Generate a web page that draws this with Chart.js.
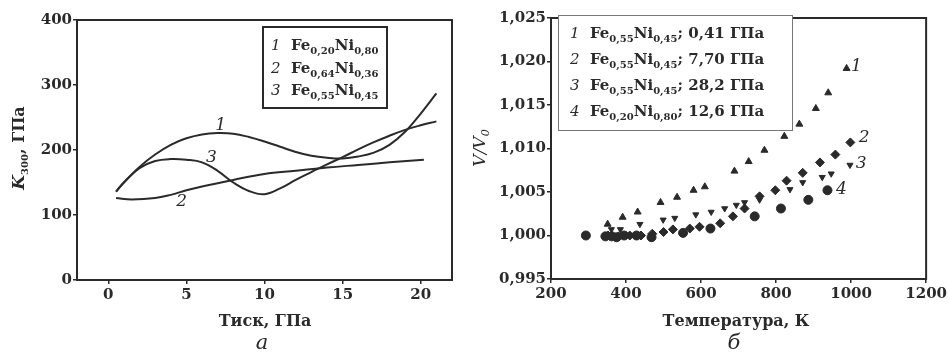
<!DOCTYPE html>
<html>
<head>
<meta charset="utf-8">
<script src="https://cdn.jsdelivr.net/npm/chart.js@4/dist/chart.umd.min.js"></script>
<style>
  body { margin: 0; background: #fff; }
  #wrap { position: relative; width: 949px; height: 353px; }
  canvas { position: absolute; top: 0; }
</style>
</head>
<body>
<div id="wrap">
  <canvas id="chartA" width="470" height="353" style="left:0"></canvas>
  <canvas id="chartB" width="479" height="353" style="left:470px"></canvas>
</div>
<script>
// ---- panel a: bulk modulus vs pressure ----
let pressureTicks = [0, 5, 10, 15, 20];
let modulusTicks = [0, 100, 200, 300, 400];

let p1 = [0.5, 1, 2, 3, 4, 5, 6, 7, 8, 9, 10, 11, 12, 13, 14, 15, 16, 17, 18, 19, 20, 21];
let k1 = [136, 150, 174, 193, 208, 218, 224, 226, 225, 220, 213, 205, 197, 191, 188, 187, 190, 196, 208, 228, 256, 287];

let p2 = [0.5, 1.5, 3, 4, 5, 6, 8, 10, 12, 14, 16, 18, 20.2];
let k2 = [126, 124, 126, 131, 138, 144, 154, 163, 168, 173, 177, 181, 185];

let p3 = [0.5, 1, 2, 3, 4, 5, 6, 7, 8, 9, 10, 11, 12, 13, 14, 15, 16, 17, 18, 19, 20, 21];
let k3 = [136, 150, 172, 183, 186, 185, 181, 168, 150, 137, 132, 141, 154, 166, 178, 189, 201, 212, 222, 231, 238, 244];

// ---- panel b: V/V0 vs temperature ----
let tempTicks = [200, 400, 600, 800, 1000, 1200];
let volTicks = [0.995, 1.000, 1.005, 1.010, 1.015, 1.020, 1.025];

let t1 = [351, 391, 431, 492, 536, 580, 610, 689, 727, 769, 822, 862, 906, 939, 988];
let v1 = [1.0013, 1.0021, 1.0027, 1.0038, 1.0044, 1.0052, 1.0056, 1.0074, 1.0085, 1.0098, 1.0114, 1.0128, 1.0146, 1.0164, 1.0192];

let t2 = [352, 380, 410, 440, 470, 500, 525, 570, 596, 651, 685, 716, 756, 798, 828, 871, 917, 958, 998];
let v2 = [1.0000, 0.9999, 1.0000, 1.0000, 1.0002, 1.0004, 1.0007, 1.0008, 1.0010, 1.0014, 1.0022, 1.0031, 1.0045, 1.0052, 1.0063, 1.0072, 1.0084, 1.0093, 1.0107];

let t3 = [361, 385, 437, 499, 530, 586, 627, 663, 694, 716, 756, 837, 871, 923, 947, 997];
let v3 = [1.0007, 1.0007, 1.0013, 1.0018, 1.0020, 1.0024, 1.0027, 1.0031, 1.0035, 1.0038, 1.0041, 1.0053, 1.0061, 1.0067, 1.0071, 1.0081];

let t4 = [293, 345, 362, 375, 395, 428, 468, 552, 625, 743, 813, 886, 937];
let v4 = [1.0000, 0.9999, 0.9999, 0.9998, 1.0000, 1.0000, 0.9998, 1.0003, 1.0008, 1.0022, 1.0031, 1.0041, 1.0052];

const INK = '#2a2a2a';
const SERIF = "'DejaVu Serif', serif";
Chart.defaults.font.family = SERIF;
Chart.defaults.font.size = 15;
Chart.defaults.font.weight = 'bold';
Chart.defaults.color = INK;

function pts(xs, ys) {
    return xs.map((x, i) => ({ x: x, y: ys[i] }));
}

// draw a run of text pieces (normal, italic, subscript) one after another
function drawParts(ctx, parts, x, y, align) {
    let total = 0;
    parts.forEach(p => { ctx.font = p.f; total += ctx.measureText(p.t).width; });
    let cx = align === 'center' ? x - total / 2 : x;
    ctx.textAlign = 'left';
    ctx.textBaseline = 'alphabetic';
    parts.forEach(p => {
        ctx.font = p.f;
        ctx.fillText(p.t, cx, y + (p.dy || 0));
        cx += ctx.measureText(p.t).width;
    });
}

const B = 'bold 15px ' + SERIF;
const BI = 'italic 15px ' + SERIF;
const SUB = 'bold 10px ' + SERIF;
function formula(num, a, b, tail) {
    let parts = [{ t: num, f: BI }, { t: '  Fe', f: B }, { t: a, f: SUB, dy: 4 }, { t: 'Ni', f: B }, { t: b, f: SUB, dy: 4 }];
    if (tail) parts.push({ t: tail, f: B });
    return parts;
}

// frame around the plot area
const framePlugin = {
    id: 'frame',
    afterDraw(chart) {
        let a = chart.chartArea, ctx = chart.ctx;
        ctx.save();
        ctx.strokeStyle = INK;
        ctx.lineWidth = 2;
        ctx.strokeRect(a.left, a.top, a.right - a.left, a.bottom - a.top);
        ctx.restore();
    }
};

function axis(min, max, ticks, fmt, size, isX) {
    return {
        type: 'linear',
        min: min,
        max: max,
        afterBuildTicks: s => { s.ticks = ticks.map(v => ({ value: v })); },
        afterFit: s => { if (isX) s.height = size; else s.width = size; },
        grid: { drawOnChartArea: false, tickLength: 4, color: INK, lineWidth: 1.5 },
        border: { color: INK, width: 2 },
        ticks: { padding: isX ? 2 : 1, color: INK, callback: fmt }
    };
}

// ---------- chart a ----------
const lineStyle = { borderColor: INK, borderWidth: 2, pointRadius: 0, tension: 0.4, fill: false, showLine: true };

const textA = {
    id: 'textA',
    afterDraw(chart) {
        let ctx = chart.ctx, xs = chart.scales.x, ys = chart.scales.y;
        ctx.save();
        ctx.fillStyle = INK;
        // y title
        ctx.save();
        ctx.translate(24, 148);
        ctx.rotate(-Math.PI / 2);
        drawParts(ctx, [{ t: 'K', f: 'italic bold 17px ' + SERIF }, { t: '300', f: SUB, dy: 4 }, { t: ', ГПа', f: 'bold 16px ' + SERIF }], 0, 0, 'center');
        ctx.restore();
        drawParts(ctx, [{ t: 'Тиск, ГПа', f: 'bold 16px ' + SERIF }], 265, 326, 'center');
        drawParts(ctx, [{ t: 'а', f: 'italic 21px ' + SERIF }], 262, 349, 'center');
        // legend box
        ctx.strokeStyle = INK;
        ctx.lineWidth = 2;
        ctx.strokeRect(263, 27, 124, 81);
        drawParts(ctx, formula('1', '0,20', '0,80'), 271, 50);
        drawParts(ctx, formula('2', '0,64', '0,36'), 271, 73);
        drawParts(ctx, formula('3', '0,55', '0,45'), 271, 95);
        // curve numbers
        ctx.font = 'italic 17px ' + SERIF;
        ctx.textAlign = 'center';
        ctx.textBaseline = 'middle';
        ctx.fillText('1', xs.getPixelForValue(7.2), ys.getPixelForValue(238));
        ctx.fillText('3', xs.getPixelForValue(6.6), ys.getPixelForValue(189));
        ctx.fillText('2', xs.getPixelForValue(4.7), ys.getPixelForValue(120));
        ctx.restore();
    }
};

new Chart(document.getElementById('chartA'), {
    type: 'scatter',
    data: {
        datasets: [
            Object.assign({ label: '1', data: pts(p1, k1) }, lineStyle),
            Object.assign({ label: '2', data: pts(p2, k2) }, lineStyle),
            Object.assign({ label: '3', data: pts(p3, k3) }, lineStyle)
        ]
    },
    options: {
        responsive: false,
        animation: false,
        layout: { padding: { left: 0, right: 18, top: 20, bottom: 0 } },
        plugins: { legend: { display: false }, tooltip: { enabled: false } },
        scales: {
            x: axis(-2, 22, pressureTicks, v => v, 73, true),
            y: axis(0, 400, modulusTicks, v => v, 77, false)
        }
    },
    plugins: [framePlugin, textA]
});

// ---------- chart b ----------
function marker(label, xs, ys, style, radius, rot) {
    return {
        label: label,
        data: pts(xs, ys),
        pointStyle: style,
        pointRadius: radius,
        pointRotation: rot || 0,
        pointBackgroundColor: INK,
        pointBorderColor: INK,
        pointBorderWidth: 1,
        showLine: false
    };
}

const textB = {
    id: 'textB',
    afterDraw(chart) {
        let ctx = chart.ctx, xs = chart.scales.x, ys = chart.scales.y;
        ctx.save();
        ctx.fillStyle = INK;
        ctx.save();
        ctx.translate(15, 148);
        ctx.rotate(-Math.PI / 2);
        drawParts(ctx, [{ t: 'V/V', f: 'italic 17px ' + SERIF }, { t: '0', f: 'italic 11px ' + SERIF, dy: 4 }], 0, 0, 'center');
        ctx.restore();
        drawParts(ctx, [{ t: 'Температура, К', f: 'bold 16px ' + SERIF }], 266, 326, 'center');
        drawParts(ctx, [{ t: 'б', f: 'italic 21px ' + SERIF }], 264, 349, 'center');
        // legend box
        ctx.fillStyle = '#fff';
        ctx.fillRect(88, 15, 234, 115);
        ctx.strokeStyle = '#777';
        ctx.lineWidth = 1;
        ctx.strokeRect(88.5, 15.5, 234, 115);
        ctx.fillStyle = INK;
        drawParts(ctx, formula('1', '0,55', '0,45', '; 0,41 ГПа'), 100, 38);
        drawParts(ctx, formula('2', '0,55', '0,45', '; 7,70 ГПа'), 100, 64);
        drawParts(ctx, formula('3', '0,55', '0,45', '; 28,2 ГПа'), 100, 90);
        drawParts(ctx, formula('4', '0,20', '0,80', '; 12,6 ГПа'), 100, 116);
        // series numbers
        ctx.font = 'italic 17px ' + SERIF;
        ctx.textAlign = 'center';
        ctx.textBaseline = 'middle';
        ctx.fillText('1', xs.getPixelForValue(1014), ys.getPixelForValue(1.0194));
        ctx.fillText('2', xs.getPixelForValue(1035), ys.getPixelForValue(1.0113));
        ctx.fillText('3', xs.getPixelForValue(1027), ys.getPixelForValue(1.0083));
        ctx.fillText('4', xs.getPixelForValue(974), ys.getPixelForValue(1.0053));
        ctx.restore();
    }
};

new Chart(document.getElementById('chartB'), {
    type: 'scatter',
    data: {
        datasets: [
            marker('1', t1, v1, 'triangle', 4),
            marker('2', t2, v2, 'rectRot', 4.5),
            marker('3', t3, v3, 'triangle', 3.5, 180),
            marker('4', t4, v4, 'circle', 4.5)
        ]
    },
    options: {
        responsive: false,
        animation: false,
        layout: { padding: { left: 0, right: 22, top: 18, bottom: 0 } },
        plugins: { legend: { display: false }, tooltip: { enabled: false } },
        scales: {
            x: axis(200, 1200, tempTicks, v => v, 74, true),
            y: axis(0.995, 1.025, volTicks, v => v.toFixed(3).replace('.', ','), 81, false)
        }
    },
    plugins: [framePlugin, textB]
});
</script>
</body>
</html>
